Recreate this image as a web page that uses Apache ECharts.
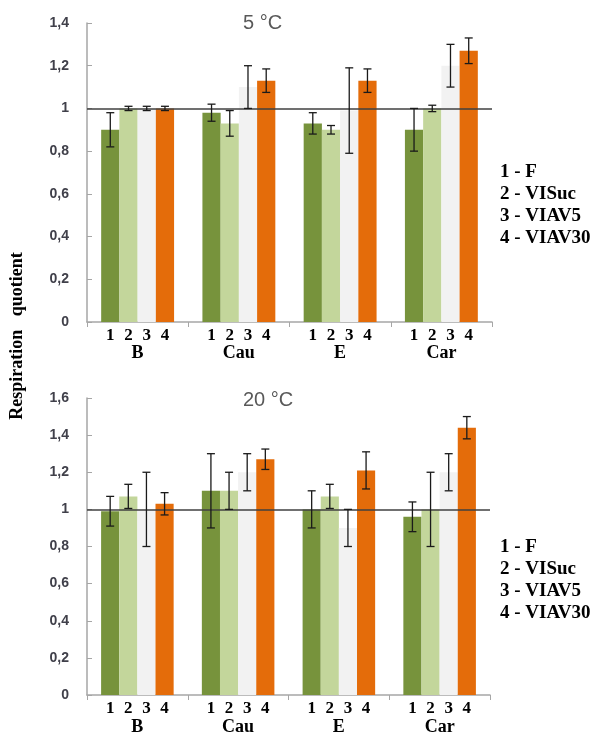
<!DOCTYPE html>
<html>
<head>
<meta charset="utf-8">
<script src="https://cdn.jsdelivr.net/npm/echarts@6/dist/echarts.min.js"></script>
<style>html,body{margin:0;padding:0;background:#fff;}#c{width:596px;height:739px;}</style>
</head>
<body>
<div id="c"></div>
<script>
// ---- data ----
const categories = ['B', 'Cau', 'E', 'Car'];
const barNumbers = ['1', '2', '3', '4'];
const legendLines = ['1 - F', '2 - VISuc', '3 - VIAV5', '4 - VIAV30'];
const titles = ['5 °C', '20 °C'];
const yAxisTitle = 'Respiration   quotient';

// 5 °C
const t5_v1 = [0.90, 0.98, 0.93, 0.90];
const t5_v2 = [1.00, 0.93, 0.90, 1.00];
const t5_v3 = [1.00, 1.10, 0.99, 1.20];
const t5_v4 = [1.00, 1.13, 1.13, 1.27];
const t5_e1 = [0.08, 0.04, 0.05, 0.10];
const t5_e2 = [0.01, 0.06, 0.02, 0.015];
const t5_e3 = [0.01, 0.10, 0.20, 0.10];
const t5_e4 = [0.01, 0.055, 0.055, 0.06];

// 20 °C
const t20_v1 = [0.99, 1.10, 1.00, 0.96];
const t20_v2 = [1.07, 1.10, 1.07, 1.00];
const t20_v3 = [1.00, 1.20, 0.90, 1.20];
const t20_v4 = [1.03, 1.27, 1.21, 1.44];
const t20_e1 = [0.08, 0.20, 0.10, 0.08];
const t20_e2 = [0.065, 0.10, 0.065, 0.20];
const t20_e3 = [0.20, 0.10, 0.10, 0.10];
const t20_e4 = [0.06, 0.055, 0.10, 0.06];

const refValue = 1;
const yMax = [1.4, 1.6];

// ---- styling ----
const colors = ['#77933c', '#c3d69b', '#f2f2f2', '#e46c0a'];
const gapPct = 0.28;
const serif = '"Liberation Serif", "DejaVu Serif", serif';
const sans = '"Liberation Sans", Arial, sans-serif';

const chart = echarts.init(document.getElementById('c'));

const grids = [
  {left: 87, right: 104, top: 23, height: 299},
  {left: 87, right: 106, top: 398, height: 297}
];
const catMargins = [22, 23];

const xAxes = [], yAxes = [], series = [];
const allVals = [[t5_v1, t5_v2, t5_v3, t5_v4], [t20_v1, t20_v2, t20_v3, t20_v4]];
const allErrs = [[t5_e1, t5_e2, t5_e3, t5_e4], [t20_e1, t20_e2, t20_e3, t20_e4]];

for (let g = 0; g < 2; g++) {
  xAxes.push({
    type: 'category', gridIndex: g, data: categories,
    axisLine: {lineStyle: {color: '#a6a6a6', width: 1.5}},
    axisTick: {show: true, length: 5, inside: false, lineStyle: {color: '#a6a6a6'}},
    axisLabel: {margin: catMargins[g], fontFamily: serif, fontWeight: 'bold', fontSize: 18, color: '#000'}
  });
  yAxes.push({
    type: 'value', gridIndex: g, min: 0, max: yMax[g], interval: 0.2,
    splitLine: {show: false},
    axisLine: {show: true, lineStyle: {color: '#a6a6a6', width: 1.5}},
    axisTick: {show: true, inside: true, length: 5, lineStyle: {color: '#a6a6a6'}},
    axisLabel: {
      margin: 18, fontFamily: sans, fontWeight: 'bold', fontSize: 14, color: '#40404a',
      formatter: v => String(Math.round(v * 10) / 10).replace('.', ',')
    }
  });
  for (let k = 0; k < 4; k++) {
    const s = {
      type: 'bar', name: barNumbers[k], xAxisIndex: g, yAxisIndex: g,
      data: allVals[g][k],
      barGap: '0%', barCategoryGap: (gapPct * 100) + '%',
      itemStyle: {color: colors[k]},
      label: {
        show: true, position: ['50%', '100%'], offset: [0, 5],
        align: 'center', verticalAlign: 'top',
        formatter: () => barNumbers[k],
        fontFamily: serif, fontWeight: 'bold', fontSize: 17, color: '#000'
      },
      z: 2
    };
    if (k === 3) {
      s.markLine = {
        silent: true, symbol: ['none', 'none'], label: {show: false},
        lineStyle: {color: '#404040', width: 1.5, type: 'solid'},
        data: [{yAxis: refValue}], z: 5
      };
    }
    series.push(s);
  }
  for (let k = 0; k < 4; k++) {
    const vals = allVals[g][k], errs = allErrs[g][k];
    series.push({
      type: 'custom', xAxisIndex: g, yAxisIndex: g, z: 10, silent: true,
      encode: {x: 0, y: 1},
      data: categories.map((c, i) => [i, vals[i], errs[i]]),
      renderItem: (params, api) => {
        const ci = api.value(0), v = api.value(1), e = api.value(2);
        const c = api.coord([ci, v]);
        const bandW = api.size([1, 0])[0];
        const bw = bandW * (1 - gapPct) / 4;
        const x = c[0] + (k - 1.5) * bw;
        const yHi = api.coord([ci, v + e])[1];
        const yLo = api.coord([ci, v - e])[1];
        const cap = 4;
        const st = {stroke: '#1a1a1a', lineWidth: 1.3};
        return {type: 'group', children: [
          {type: 'line', shape: {x1: x, y1: yHi, x2: x, y2: yLo}, style: st},
          {type: 'line', shape: {x1: x - cap, y1: yHi, x2: x + cap, y2: yHi}, style: st},
          {type: 'line', shape: {x1: x - cap, y1: yLo, x2: x + cap, y2: yLo}, style: st}
        ]};
      }
    });
  }
}

const graphics = [];
const titlePos = [{x: 243, y: 25}, {x: 243, y: 402}];
const legendTop = [173, 548];
for (let g = 0; g < 2; g++) {
  graphics.push({
    type: 'text', left: titlePos[g].x, top: titlePos[g].y - 12,
    style: {text: titles[g], fontFamily: sans, fontSize: 20, fill: '#595959'}
  });
  legendLines.forEach((t, i) => {
    graphics.push({
      type: 'text', left: 500, top: legendTop[g] + i * 21.7 - 10,
      style: {text: t, fontFamily: serif, fontWeight: 'bold', fontSize: 19, fill: '#000'}
    });
  });
}
graphics.push({
  type: 'text', x: 17, y: 336, rotation: Math.PI / 2,
  style: {text: yAxisTitle, fontFamily: serif, fontWeight: 'bold', fontSize: 18, fill: '#000',
          align: 'center', verticalAlign: 'middle'}
});

chart.setOption({
  animation: false,
  grid: grids,
  xAxis: xAxes,
  yAxis: yAxes,
  series: series,
  graphic: graphics
});
</script>
</body>
</html>
